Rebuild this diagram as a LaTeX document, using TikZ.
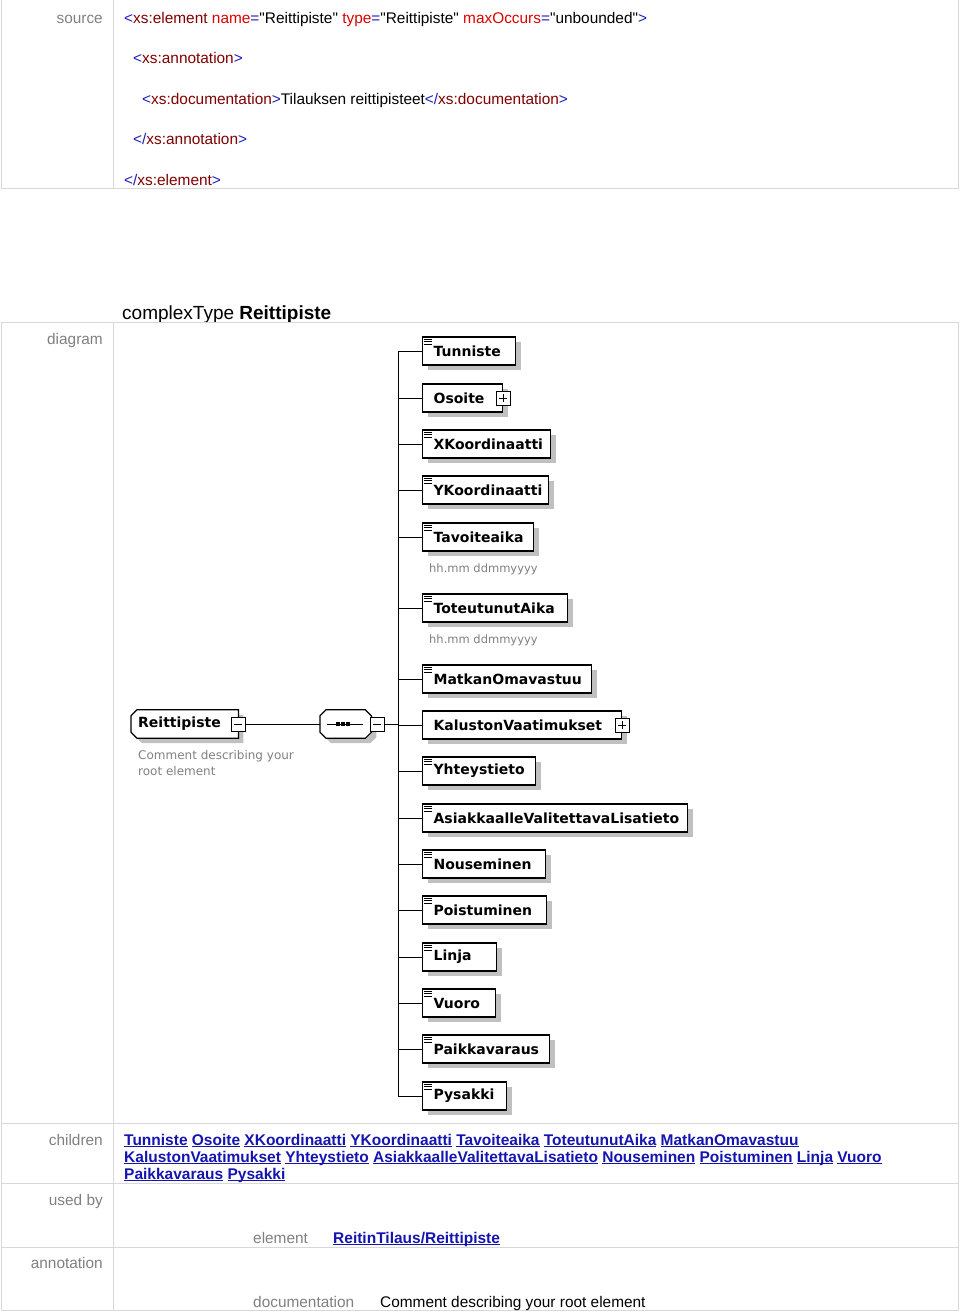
\documentclass[tikz,border=0pt]{standalone}
\usepackage{fontspec}
\setmainfont{Liberation Sans}
\newfontfamily\srcfont{Liberation Sans}[Ligatures=TeXOff]
\newfontfamily\xsd{DejaVu Sans}
\usetikzlibrary{shadows,backgrounds}
\definecolor{tblline}{RGB}{216,216,216}
\definecolor{lblgray}{RGB}{128,128,128}
\definecolor{shadowgray}{RGB}{192,192,192}
\definecolor{linkblue}{RGB}{20,20,175}
\definecolor{xmlblue}{RGB}{30,30,190}
\definecolor{xmltag}{RGB}{128,0,0}
\definecolor{xmlattr}{RGB}{220,0,0}
\newcommand\xlt{\textcolor{xmlblue}{<}}
\newcommand\xclt{\textcolor{xmlblue}{</}}
\newcommand\xgt{\textcolor{xmlblue}{>}}
\newcommand\xeq{\textcolor{xmlblue}{=}}
\newcommand\xtag[1]{\textcolor{xmltag}{#1}}
\newcommand\xattr[1]{\textcolor{xmlattr}{#1}}
\newcommand\lnk[1]{\setbox0\hbox{#1}\rlap{\rule[-2pt]{\wd0}{1.1pt}}\box0\relax}
\tikzset{
  lbl/.style={anchor=base east, text=lblgray, font=\fontsize{15.4}{18}\selectfont, inner sep=0pt},
  src/.style={anchor=base west, font=\srcfont\fontsize{15.4}{18}\selectfont, inner sep=0pt},
  tblrule/.style={draw=tblline, line width=1pt},
  boxshadow/.style={general shadow={fill=shadowgray, shadow xshift=5pt, shadow yshift=-5pt}},
  elfont/.style={font=\xsd\bfseries\fontsize{14}{16}\selectfont},
  elbox/.style={draw, line width=1.2pt, fill=white, anchor=west, minimum height=28pt,
    inner xsep=11pt, inner ysep=0pt, elfont, boxshadow},
  pmbox/.style={draw, line width=1pt, fill=white, minimum size=14pt, inner sep=0pt},
  conn/.style={line width=1pt},
  ann/.style={anchor=base west, text=lblgray, inner sep=0pt},
  link/.style={anchor=base west, text=linkblue, font=\bfseries\fontsize{15.5}{18}\selectfont, inner sep=0pt},
}
\begin{document}
\begin{tikzpicture}[x=1pt,y=-1pt]
\useasboundingbox (0,0) rectangle (960,1312);
% ---------- source table ----------
\draw[tblrule] (1,0) -- (1,188) -- (958,188) -- (958,0);
\draw[tblrule] (113,0) -- (113,188);
\node[lbl] (lsource) at (103,23) {source};
\node[src] (s1) at (124,23) {\xlt\xtag{xs:element} \xattr{name}\xeq"Reittipiste" \xattr{type}\xeq"Reittipiste" \xattr{maxOccurs}\xeq"unbounded"\xgt};
\node[src] (s2) at (133,63) {\xlt\xtag{xs:annotation}\xgt};
\node[src] (s3) at (142,104) {\xlt\xtag{xs:documentation}\xgt Tilauksen reittipisteet\xclt\xtag{xs:documentation}\xgt};
\node[src] (s4) at (133,144) {\xclt\xtag{xs:annotation}\xgt};
\node[src] (s5) at (124,185) {\xclt\xtag{xs:element}\xgt};
% ---------- title ----------
\node[anchor=base west, font=\fontsize{19}{22}\selectfont, inner sep=0pt] (title) at (122,319) {complexType \textbf{Reittipiste}};
% ---------- main table ----------
\draw[tblrule] (1,322.5) rectangle (958,1310);
\draw[tblrule] (113,322.5) -- (113,1310);
\draw[tblrule] (1,1123) -- (958,1123);
\draw[tblrule] (1,1183) -- (958,1183);
\draw[tblrule] (1,1247) -- (958,1247);
\node[lbl] (ldiagram) at (103,344) {diagram};
\node[lbl] (lchildren) at (103,1145) {children};
\node[lbl] (lusedby) at (103,1205) {used by};
\node[lbl] (lannotation) at (103,1268) {annotation};
% ---------- diagram ----------
\coordinate (bus) at (398,724);
% root element
\node[anchor=west, minimum width=107pt, minimum height=28pt, inner xsep=7pt, inner ysep=0pt, elfont] (reitti) at (131,724) {\makebox[93pt][l]{\raisebox{-1pt}{Reittipiste}}};
\node[pmbox] (rminus) at (reitti.east) {};
\draw[conn] ([xshift=-4pt]rminus.center) -- ([xshift=4pt]rminus.center);
\node[ann, font=\xsd\fontsize{12}{14}\selectfont] (rcom1) at (138,759) {Comment describing your};
\node[ann, font=\xsd\fontsize{12}{14}\selectfont] (rcom2) at (138,775) {root element};
% sequence compositor
\node[anchor=west, minimum width=51pt, minimum height=28pt, inner sep=0pt] (seq) at (320,724) {};
\node[pmbox] (sminus) at ([xshift=6pt]seq.east) {};
\draw[conn] ([xshift=-4pt]sminus.center) -- ([xshift=4pt]sminus.center);
\draw[conn] ([xshift=-18.5pt]seq.center) -- ([xshift=17.5pt]seq.center);
\foreach \dx in {-7.5,-2.5,2.5}{
  \fill ([xshift=\dx pt]seq.center) +(-1.8pt,-1.8pt) rectangle +(1.8pt,1.8pt);
}
\begin{scope}[on background layer]
\filldraw[fill=white, line width=1.2pt, boxshadow]
  ([xshift=6pt]reitti.north west) -- (reitti.north east) -- (reitti.south east)
  -- ([xshift=6pt]reitti.south west) -- ([yshift=6pt]reitti.south west)
  -- ([yshift=-6pt]reitti.north west) -- cycle;
\filldraw[fill=white, line width=1.2pt, boxshadow]
  ([xshift=6pt]seq.north west) -- ([xshift=-6pt]seq.north east) -- ([yshift=-6pt]seq.north east)
  -- ([yshift=6pt]seq.south east) -- ([xshift=-6pt]seq.south east) -- ([xshift=6pt]seq.south west)
  -- ([yshift=6pt]seq.south west) -- ([yshift=-6pt]seq.north west) -- cycle;
\end{scope}
\draw[conn] (rminus.east) -- (seq.west);
\draw[conn] (sminus.east) -- (bus);
% children
\foreach \n/\t/\y/\r/\k in {
  tunniste/Tunniste/351/515/e,
  osoite/Osoite/398/502/p,
  xkoord/XKoordinaatti/444/550/e,
  ykoord/YKoordinaatti/490/548/e,
  tavoite/Tavoiteaika/537/533/e,
  toteutunut/ToteutunutAika/608/567/e,
  matkan/MatkanOmavastuu/679/591/e,
  kaluston/KalustonVaatimukset/725/621/p,
  yhteys/Yhteystieto/771/535/e,
  asiakkaalle/AsiakkaalleValitettavaLisatieto/818/687/e,
  nouseminen/Nouseminen/864/545/e,
  poistuminen/Poistuminen/910/546/e,
  linja/Linja/957/496/e,
  vuoro/Vuoro/1003/495/e,
  paikka/Paikkavaraus/1049/549/e,
  pysakki/Pysakki/1096/506/e}{
  \pgfmathsetmacro\w{\r-422}
  \pgfmathsetmacro\tw{\r-444}
  \node[elbox, minimum width=\w pt] (\n) at (422,\y) {\makebox[\tw pt][l]{\t}};
  \draw[conn] (\n.west) -- (\n.west -| bus);
  \if e\k
    \draw[line width=0.9pt] ([shift={(2pt,-3pt)}]\n.north west) -- ++(8pt,0pt)
      ([shift={(2pt,-5.5pt)}]\n.north west) -- ++(8pt,0pt)
      ([shift={(2pt,-8pt)}]\n.north west) -- ++(8pt,0pt);
  \else
    \node[pmbox] (\n-plus) at (\n.east) {};
    \draw[conn] ([xshift=-4pt]\n-plus.center) -- ([xshift=4pt]\n-plus.center)
      ([yshift=-4pt]\n-plus.center) -- ([yshift=4pt]\n-plus.center);
  \fi
}
\draw[conn] (tunniste.west -| bus) -- (pysakki.west -| bus);
\node[ann, font=\xsd\fontsize{11.5}{13}\selectfont] (tavann) at (429,572) {hh.mm ddmmyyyy};
\node[ann, font=\xsd\fontsize{11.5}{13}\selectfont] (totann) at (429,643) {hh.mm ddmmyyyy};
% ---------- children list ----------
\node[link] (c1) at (124,1145) {\lnk{Tunniste} \lnk{Osoite} \lnk{XKoordinaatti} \lnk{YKoordinaatti} \lnk{Tavoiteaika} \lnk{ToteutunutAika} \lnk{MatkanOmavastuu}};
\node[link] (c2) at (124,1162) {\lnk{KalustonVaatimukset} \lnk{Yhteystieto} \lnk{AsiakkaalleValitettavaLisatieto} \lnk{Nouseminen} \lnk{Poistuminen} \lnk{Linja} \lnk{Vuoro}};
\node[link] (c3) at (124,1179) {\lnk{Paikkavaraus} \lnk{Pysakki}};
% ---------- used by ----------
\node[ann, font=\fontsize{15.4}{18}\selectfont] (uel) at (253,1243) {element};
\node[link] (ulink) at (333,1243) {\lnk{ReitinTilaus/Reittipiste}};
% ---------- annotation ----------
\node[ann, font=\fontsize{15.4}{18}\selectfont] (adoc) at (253,1307) {documentation};
\node[anchor=base west, inner sep=0pt, font=\fontsize{15.4}{18}\selectfont] (atext) at (380,1307) {Comment describing your root element};
\end{tikzpicture}
\end{document}
